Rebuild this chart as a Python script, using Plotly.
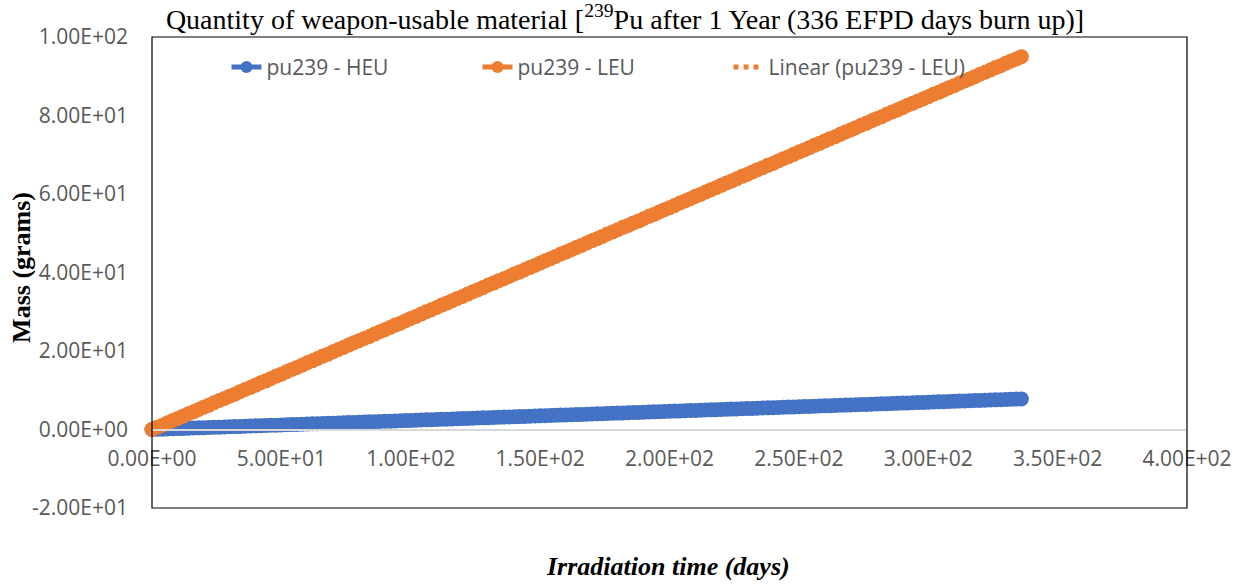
import numpy as np
import plotly.graph_objects as go

# irradiation time (days), every second day of the 336 EFPD cycle
days = list(range(0, 337, 2))

heu_mass = [
    0.00, 0.05, 0.09, 0.14, 0.19, 0.23, 0.28, 0.32, 0.37, 0.42, 0.46, 0.51, 0.56, 0.60, 0.65,
    0.70, 0.74, 0.79, 0.84, 0.88, 0.93, 0.97, 1.02, 1.07, 1.11, 1.16, 1.21, 1.25, 1.30, 1.35,
    1.39, 1.44, 1.48, 1.53, 1.58, 1.62, 1.67, 1.72, 1.76, 1.81, 1.86, 1.90, 1.95, 2.00, 2.04,
    2.09, 2.13, 2.18, 2.23, 2.27, 2.32, 2.37, 2.41, 2.46, 2.51, 2.55, 2.60, 2.64, 2.69, 2.74,
    2.78, 2.83, 2.88, 2.92, 2.97, 3.02, 3.06, 3.11, 3.16, 3.20, 3.25, 3.29, 3.34, 3.39, 3.43,
    3.48, 3.53, 3.57, 3.62, 3.67, 3.71, 3.76, 3.80, 3.85, 3.90, 3.94, 3.99, 4.04, 4.08, 4.13,
    4.18, 4.22, 4.27, 4.32, 4.36, 4.41, 4.45, 4.50, 4.55, 4.59, 4.64, 4.69, 4.73, 4.78, 4.83,
    4.87, 4.92, 4.96, 5.01, 5.06, 5.10, 5.15, 5.20, 5.24, 5.29, 5.34, 5.38, 5.43, 5.48, 5.52,
    5.57, 5.61, 5.66, 5.71, 5.75, 5.80, 5.85, 5.89, 5.94, 5.99, 6.03, 6.08, 6.12, 6.17, 6.22,
    6.26, 6.31, 6.36, 6.40, 6.45, 6.50, 6.54, 6.59, 6.64, 6.68, 6.73, 6.77, 6.82, 6.87, 6.91,
    6.96, 7.01, 7.05, 7.10, 7.15, 7.19, 7.24, 7.28, 7.33, 7.38, 7.42, 7.47, 7.52, 7.56, 7.61,
    7.66, 7.70, 7.75, 7.80,
]

leu_mass = [
    0.0, 0.6, 1.1, 1.7, 2.3, 2.8, 3.4, 4.0, 4.5, 5.1, 5.7, 6.2, 6.8, 7.4, 7.9,
    8.5, 9.0, 9.6, 10.2, 10.7, 11.3, 11.9, 12.4, 13.0, 13.6, 14.1, 14.7, 15.3, 15.8, 16.4,
    17.0, 17.5, 18.1, 18.7, 19.2, 19.8, 20.4, 20.9, 21.5, 22.1, 22.6, 23.2, 23.7, 24.3, 24.9,
    25.4, 26.0, 26.6, 27.1, 27.7, 28.3, 28.8, 29.4, 30.0, 30.5, 31.1, 31.7, 32.2, 32.8, 33.4,
    33.9, 34.5, 35.1, 35.6, 36.2, 36.8, 37.3, 37.9, 38.4, 39.0, 39.6, 40.1, 40.7, 41.3, 41.8,
    42.4, 43.0, 43.5, 44.1, 44.7, 45.2, 45.8, 46.4, 46.9, 47.5, 48.1, 48.6, 49.2, 49.8, 50.3,
    50.9, 51.5, 52.0, 52.6, 53.1, 53.7, 54.3, 54.8, 55.4, 56.0, 56.5, 57.1, 57.7, 58.2, 58.8,
    59.4, 59.9, 60.5, 61.1, 61.6, 62.2, 62.8, 63.3, 63.9, 64.5, 65.0, 65.6, 66.2, 66.7, 67.3,
    67.8, 68.4, 69.0, 69.5, 70.1, 70.7, 71.2, 71.8, 72.4, 72.9, 73.5, 74.1, 74.6, 75.2, 75.8,
    76.3, 76.9, 77.5, 78.0, 78.6, 79.2, 79.7, 80.3, 80.9, 81.4, 82.0, 82.6, 83.1, 83.7, 84.2,
    84.8, 85.4, 85.9, 86.5, 87.1, 87.6, 88.2, 88.8, 89.3, 89.9, 90.5, 91.0, 91.6, 92.2, 92.7,
    93.3, 93.9, 94.4, 95.0,
]

x_ticks = [0, 50, 100, 150, 200, 250, 300, 350, 400]
y_ticks = [-20, 0, 20, 40, 60, 80, 100]

BLUE = "#4472C4"
ORANGE = "#ED7D31"
GREY = "#595959"

# excel style linear trendline for the LEU series
slope, icept = np.polyfit(days, leu_mass, 1)
trend = [slope * d + icept for d in days]

fig = go.Figure()
fig.add_trace(go.Scatter(
    x=days, y=heu_mass, name="pu239 - HEU", mode="lines+markers", cliponaxis=False,
    line=dict(color=BLUE, width=3.5), marker=dict(color=BLUE, size=15),
))
fig.add_trace(go.Scatter(
    x=days, y=leu_mass, name="pu239 - LEU", mode="lines+markers", cliponaxis=False,
    line=dict(color=ORANGE, width=3.5), marker=dict(color=ORANGE, size=15),
))
fig.add_trace(go.Scatter(
    x=days, y=trend, name="Linear (pu239 - LEU)", mode="lines",
    line=dict(color=ORANGE, width=2.5, dash="dot"),
))

tick_font = dict(family="Open Sans", size=21, color=GREY)

fig.update_layout(
    width=1244, height=585,
    margin=dict(l=152, r=57, t=37, b=77),
    paper_bgcolor="white", plot_bgcolor="white",
    title=dict(
        text="Quantity of weapon-usable material [<sup>239</sup>Pu after 1 Year (336 EFPD days burn up)]",
        font=dict(family="Liberation Serif", size=28, color="black"),
        x=0.457, xref="paper", xanchor="center", y=0.967, yanchor="middle",
    ),
    showlegend=True,
    legend=dict(
        orientation="h", x=0.072, y=0.979, xanchor="left", yanchor="top",
        font=dict(family="Open Sans", size=21, color=GREY),
        bgcolor="rgba(0,0,0,0)", itemsizing="constant", entrywidth=206,
    ),
    xaxis=dict(
        range=[0, 400], tickvals=x_ticks, tickmode="array",
        ticktext=["%.2E" % v for v in x_ticks],
        showgrid=False, zeroline=False, showline=True, linecolor="#D9D9D9", linewidth=1.5,
        anchor="free", position=20 / 120, ticks="", ticklabelstandoff=11,
        tickfont=tick_font,
    ),
    yaxis=dict(
        range=[-20, 100], tickvals=y_ticks, tickmode="array",
        ticktext=["%.2E" % v for v in y_ticks],
        showgrid=False, zeroline=False, showline=False, ticks="",
        ticklabelstandoff=23, tickfont=tick_font,
    ),
    shapes=[dict(
        type="rect", xref="paper", yref="paper", x0=0, x1=1, y0=0, y1=1,
        line=dict(color="black", width=1.2), layer="above",
    )],
    annotations=[
        dict(text="<b>Mass (grams)</b>", xref="paper", yref="paper",
             x=-0.1255, y=0.51, textangle=-90, showarrow=False,
             xanchor="center", yanchor="middle",
             font=dict(family="Liberation Serif", size=26, color="black")),
        dict(text="<b><i>Irradiation time (days)</i></b>", xref="paper", yref="paper",
             x=0.499, y=-0.125, showarrow=False, xanchor="center", yanchor="middle",
             font=dict(family="Liberation Serif", size=26, color="black")),
    ],
)

fig.write_html(
    "out.html",
    config={"displayModeBar": False},
    post_script="document.body.style.margin='0px';",
)
